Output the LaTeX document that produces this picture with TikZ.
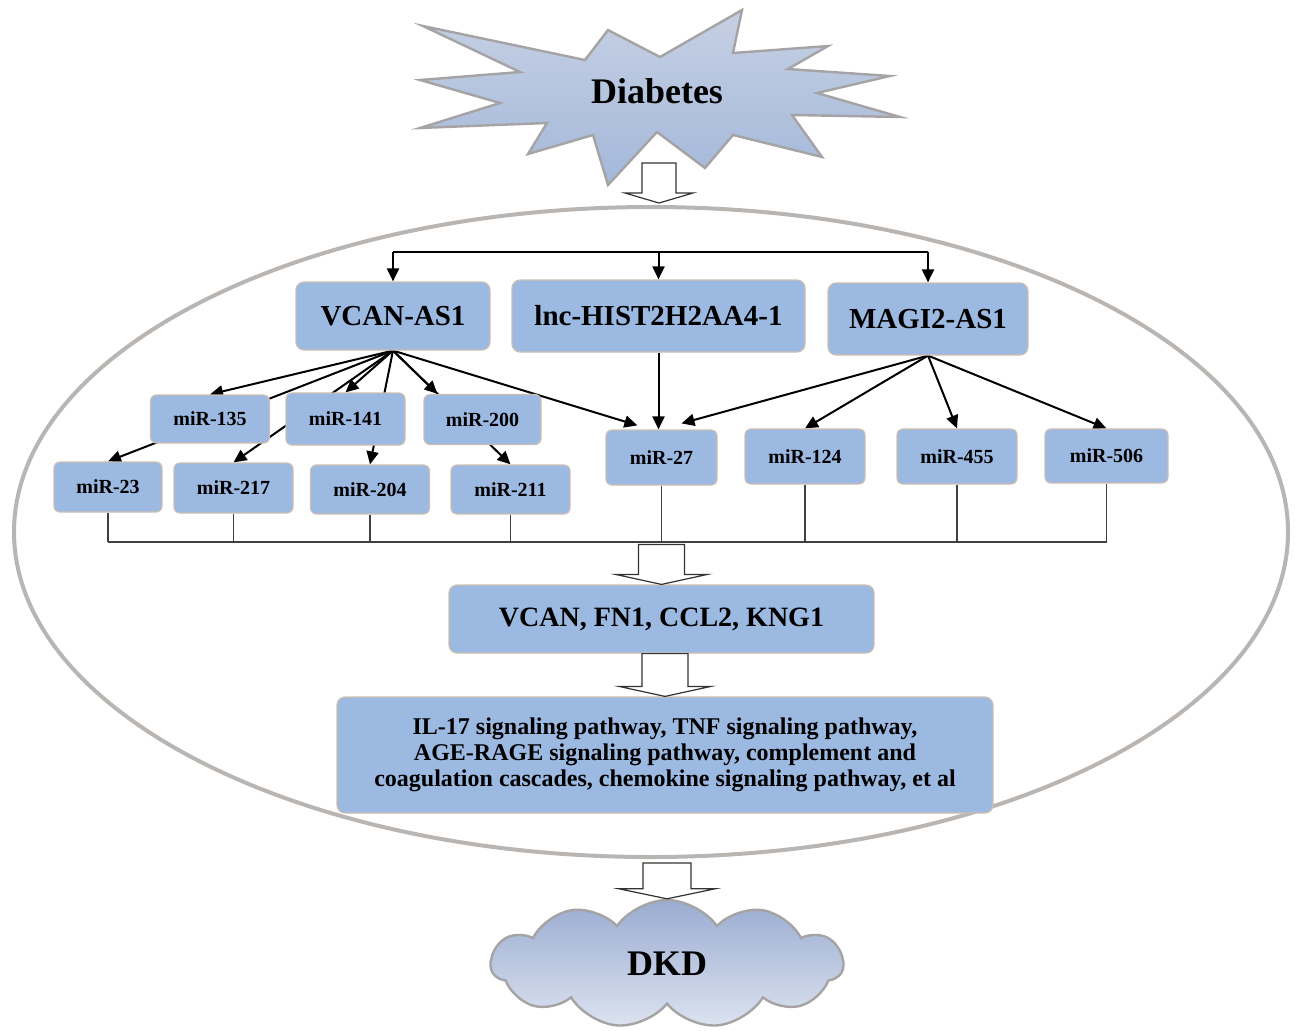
\documentclass[tikz,border=0pt]{standalone}
\usepackage{fontspec}
\setmainfont{Liberation Serif}
\usetikzlibrary{arrows.meta,shapes.geometric,shapes.symbols,calc,backgrounds}

\definecolor{boxblue}{HTML}{9CB9E2}
\definecolor{boxedge}{HTML}{CDBFB2}
\definecolor{ringgray}{HTML}{B9B5B2}
\definecolor{startop}{HTML}{C6D0E3}
\definecolor{starbot}{HTML}{A3B8DA}
\definecolor{cloudtop}{HTML}{9AACD1}
\definecolor{cloudbot}{HTML}{DCE3F0}
\definecolor{shapeedge}{HTML}{A5A3A3}

\newcommand{\bigfont}{\bfseries\fontsize{14.5}{16}\selectfont}
\newcommand{\mirfont}{\bfseries\fontsize{10}{12}\selectfont}
\newcommand{\titlefont}{\bfseries\fontsize{18}{20}\selectfont}

\tikzset{
  rna/.style={rounded corners=4pt, fill=boxblue, draw=boxedge, line width=0.6pt,
    inner sep=0pt, font=\bigfont},
  mir/.style={rna, rounded corners=3pt, minimum width=59.5pt, minimum height=25pt,
    font=\mirfont},
  regarrow/.style={-{Triangle[length=6.5pt,width=6pt]}, line width=1pt},
  feed/.style={line width=1pt},
  drop/.style={line width=0.7pt, draw=black!75},
  hollow/.style={draw=black!80, fill=white, line width=0.6pt},
}

% block arrow: #1 top of the shaft, #2 tip, #3 half width of the shaft
\newcommand{\blockdown}[3]{%
  \draw[hollow] let \p1=#1, \p2=#2 in
    (\x2-#3,\y1) -- (\x2+#3,\y1) -- (\x2+#3,\y2+5pt) -- (\x2+2*#3,\y2+5pt)
    -- (\x2,\y2) -- (\x2-2*#3,\y2+5pt) -- (\x2-#3,\y2+5pt) -- cycle;}

\begin{document}
\begin{tikzpicture}[x=0.5pt,y=-0.5pt]
\useasboundingbox (0,0) rectangle (1296,1030);

% Ring round the regulatory network
\node[ellipse, draw=ringgray, line width=2pt, minimum width=637pt,
  minimum height=325pt, inner sep=0pt] (cell) at (651,532) {};

% Starburst Diabetes
\draw[top color=startop, bottom color=starbot, draw=shapeedge, line width=1.2pt,
  line join=miter]
  (423,26) -- (585,60) -- (608,30) -- (660,57) -- (742,10) -- (733,53)
  -- (828,46) -- (788,69) -- (890,76) -- (817,93) -- (900,117) -- (792,115)
  -- (822,157) -- (733,135) -- (705,168) -- (657,132) -- (608,185) -- (593,135)
  -- (528,154) -- (547,123) -- (420,128) -- (500,103) -- (420,80) -- (520,72)
  -- cycle;
\node[font=\titlefont] (diabetes) at (657,91) {Diabetes};

% lncRNAs
\node[rna, minimum width=97pt, minimum height=34pt] (vcan) at (393,316) {VCAN-AS1};
\node[rna, minimum width=146.5pt, minimum height=36pt] (lnc) at (658.5,316) {lnc-HIST2H2AA4-1};
\node[rna, minimum width=100pt, minimum height=36pt] (magi) at (928,319) {MAGI2-AS1};

% miRNAs
\node[mir, minimum height=24pt] (m135) at (210,419) {miR-135};
\node[mir, minimum height=26pt] (m141) at (345.5,419) {miR-141};
\node[mir, minimum width=58.5pt] (m200) at (482.5,419.5) {miR-200};
\node[mir, minimum width=54pt] (m23) at (108,487) {miR-23};
\node[mir] (m217) at (233.5,488) {miR-217};
\node[mir, minimum height=24.5pt] (m204) at (370,489.5) {miR-204};
\node[mir, minimum height=24.5pt] (m211) at (510.5,489.5) {miR-211};
\node[mir, minimum width=55.5pt, minimum height=27.5pt] (m27) at (661.5,457.5) {miR-27};
\node[mir, minimum width=60pt, minimum height=27.5pt] (m124) at (805,456.5) {miR-124};
\node[mir, minimum width=60pt, minimum height=27.5pt] (m455) at (957,456.5) {miR-455};
\node[mir, minimum width=61.5pt, minimum height=27pt] (m506) at (1106.5,456) {miR-506};

% Target genes and pathways
\node[rna, minimum width=212.5pt, minimum height=34pt, font=\bfseries\fontsize{14}{16}\selectfont]
  (genes) at (661.5,619) {VCAN, FN1, CCL2, KNG1};
\node[rna, minimum width=328pt, minimum height=58pt, align=center,
  font=\bfseries\fontsize{12}{13}\selectfont] (path) at (665,755)
  {IL-17 signaling pathway, TNF signaling pathway,\\
   AGE-RAGE signaling pathway, complement and\\
   coagulation cascades, chemokine signaling pathway, et al};

% Cloud DKD
\node[cloud, cloud puffs=11, cloud puff arc=110, aspect=2.7, draw=shapeedge,
  line width=1.2pt, top color=cloudtop, bottom color=cloudbot,
  minimum width=176pt, minimum height=64pt, inner sep=0pt, font=\titlefont]
  (dkd) at (667,964) {DKD};

% Connectors behind the boxes
\begin{scope}[on background layer]
  \coordinate (bus) at (660,252);
  \coordinate (lowbus) at (660,542);
  \draw[feed] (vcan.north |- bus) -- (magi.north |- bus);
  \foreach \n in {vcan,lnc,magi}
    \draw[regarrow] (\n.north |- bus) -- (\n.north);

  % VCAN-AS1 targets
  \foreach \n in {m135,m23,m141,m217,m204,m211}
    \draw[regarrow] (vcan.south) -- (\n.north);
  \draw[regarrow] (vcan.south) -- ($(m200.north west)+(14,0)$);
  \draw[regarrow] (vcan.south) -- ($(m27.north west)+(32,-4)$);

  % lnc-HIST2H2AA4-1 target
  \draw[regarrow] (lnc.south) -- (lnc.south |- m27.north);

  % MAGI2-AS1 targets
  \draw[regarrow] (magi.south) -- ($(m27.north)+(20,-6)$);
  \foreach \n in {m124,m455,m506}
    \draw[regarrow] (magi.south) -- (\n.north);

  % miRNAs joined at the bottom
  \foreach \n in {m23,m217,m204,m211,m27,m124,m455,m506}
    \draw[drop] (\n.south) -- (\n.south |- lowbus);
  \draw[drop] (m23.south |- lowbus) -- (m506.south |- lowbus);
\end{scope}

% Block arrows
\blockdown{($(cell.north)+(8,-42)$)}{($(cell.north)+(8,-2)$)}{8.5pt}
\blockdown{($(genes.north)+(0,-40)$)}{(genes.north)}{11.5pt}
\blockdown{(genes.south)}{(path.north)}{11.5pt}
\blockdown{([yshift=-2pt]cell.south)}{(dkd.north)}{12pt}
\end{tikzpicture}
\end{document}
